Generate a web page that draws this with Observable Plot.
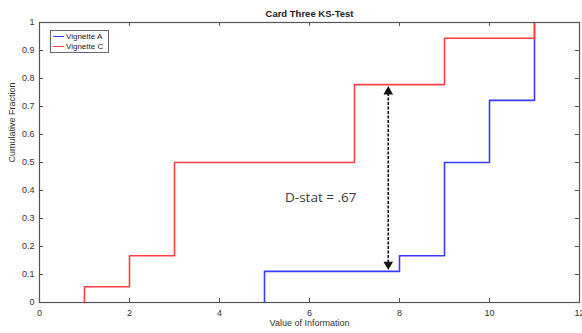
<!DOCTYPE html>
<html><head><meta charset="utf-8">
<script src="https://cdn.jsdelivr.net/npm/d3@7"></script>
<script src="https://cdn.jsdelivr.net/npm/@observablehq/plot@0.6"></script>
<style>
body{margin:0;background:#fff;}
#wrap{position:relative;width:582px;height:333px;}
.leg{position:absolute;left:50px;top:30px;width:57px;height:21px;border:1px solid #666;background:#fff;font:8px "Liberation Sans",Arial,sans-serif;color:#222;}
.leg div{display:flex;align-items:center;height:10px;}
.leg span.l{display:inline-block;width:11px;height:0;border-top:1.5px solid;margin:0 2px 0 2px;}
</style></head><body>
<div id="wrap"></div>
<script>
const xTicks = [0, 2, 4, 6, 8, 10, 12];
const yTicks = [0, 0.1, 0.2, 0.3, 0.4, 0.5, 0.6, 0.7, 0.8, 0.9, 1];
const vignetteAx = [5, 5, 8, 9, 10, 11];
const vignetteAy = [0, 0.111, 0.167, 0.5, 0.722, 1];
const vignetteCx = [1, 1, 2, 3, 7, 9, 11];
const vignetteCy = [0, 0.056, 0.167, 0.5, 0.778, 0.944, 1];
const dStatX = 7.75;
const dStatLow = 0.111, dStatHigh = 0.778;
const labelText = "D-stat = .67";
const labelX = 6.25, labelY = 0.375;

const seriesA = vignetteAx.map((x, i) => ({x, y: vignetteAy[i]}));
const seriesC = vignetteCx.map((x, i) => ({x, y: vignetteCy[i]}));
const blue = "#3a3aff", red = "#ff4040";
const font = "Liberation Sans, Arial, sans-serif";

const chart = Plot.plot({
  width: 582, height: 333,
  marginLeft: 39, marginRight: 3, marginTop: 22, marginBottom: 31,
  style: {fontFamily: font, fontSize: "9px", color: "#333", background: "#fff"},
  x: {domain: [0, 12]},
  y: {domain: [0, 1]},
  marks: [
    Plot.axisX(xTicks, {tickSize: 0, tickPadding: 7, label: null, fontSize: 9}),
    Plot.axisY(yTicks, {tickSize: 0, tickPadding: 5, label: null, fontSize: 9, tickFormat: d => String(d)}),
    Plot.line(seriesA, {x: "x", y: "y", curve: "step-after", stroke: blue, strokeWidth: 1.6}),
    Plot.line(seriesC, {x: "x", y: "y", curve: "step-after", stroke: red, strokeWidth: 1.6}),
    Plot.ruleX([dStatX], {x: d => d, y1: dStatLow + 0.03, y2: dStatHigh - 0.03, stroke: "#111", strokeWidth: 1.6, strokeDasharray: "3,1.5"}),
    Plot.dot([dStatX], {x: d => d, y: dStatHigh - 0.025, symbol: "triangle", r: 2.6, fill: "#111", stroke: "#111"}),
    Plot.dot([dStatX], {x: d => d, y: dStatLow + 0.025, symbol: "triangle", r: 2.6, fill: "#111", stroke: "#111", rotate: 180}),
    Plot.text([labelText], {x: labelX, y: labelY, text: d => d, fontSize: 13.5, fill: "#3a3a3a", fontFamily: "Open Sans, sans-serif"}),
    // inward ticks
    Plot.ruleX(xTicks.slice(1, -1), {x: d => d, y1: 0, y2: 0.014, stroke: "#555"}),
    Plot.ruleX(xTicks.slice(1, -1), {x: d => d, y1: 1, y2: 0.986, stroke: "#555"}),
    Plot.ruleY(yTicks.slice(1, -1), {y: d => d, x1: 0, x2: 0.09, stroke: "#555"}),
    Plot.ruleY(yTicks.slice(1, -1), {y: d => d, x1: 12, x2: 11.91, stroke: "#555"}),
    Plot.frame({stroke: "#555", strokeWidth: 1.2}),
    Plot.text(["Card Three KS-Test"], {frameAnchor: "top", dy: -12, text: d => d, fontWeight: "bold", fontSize: 9.5, fill: "#222"}),
    Plot.text(["Value of Information"], {frameAnchor: "bottom", dy: 23, text: d => d, fontSize: 9, fill: "#333"}),
    Plot.text(["Cumulative Fraction"], {frameAnchor: "left", dx: -27, rotate: -90, text: d => d, fontSize: 9, fill: "#333"})
  ]
});
const wrap = document.getElementById("wrap");
wrap.appendChild(chart);
const leg = document.createElement("div");
leg.className = "leg";
[["Vignette A", blue], ["Vignette C", red]].forEach(([t, c]) => {
  const row = document.createElement("div");
  const l = document.createElement("span"); l.className = "l"; l.style.borderColor = c;
  row.appendChild(l); row.appendChild(document.createTextNode(t));
  leg.appendChild(row);
});
wrap.appendChild(leg);
</script>
</body></html>
